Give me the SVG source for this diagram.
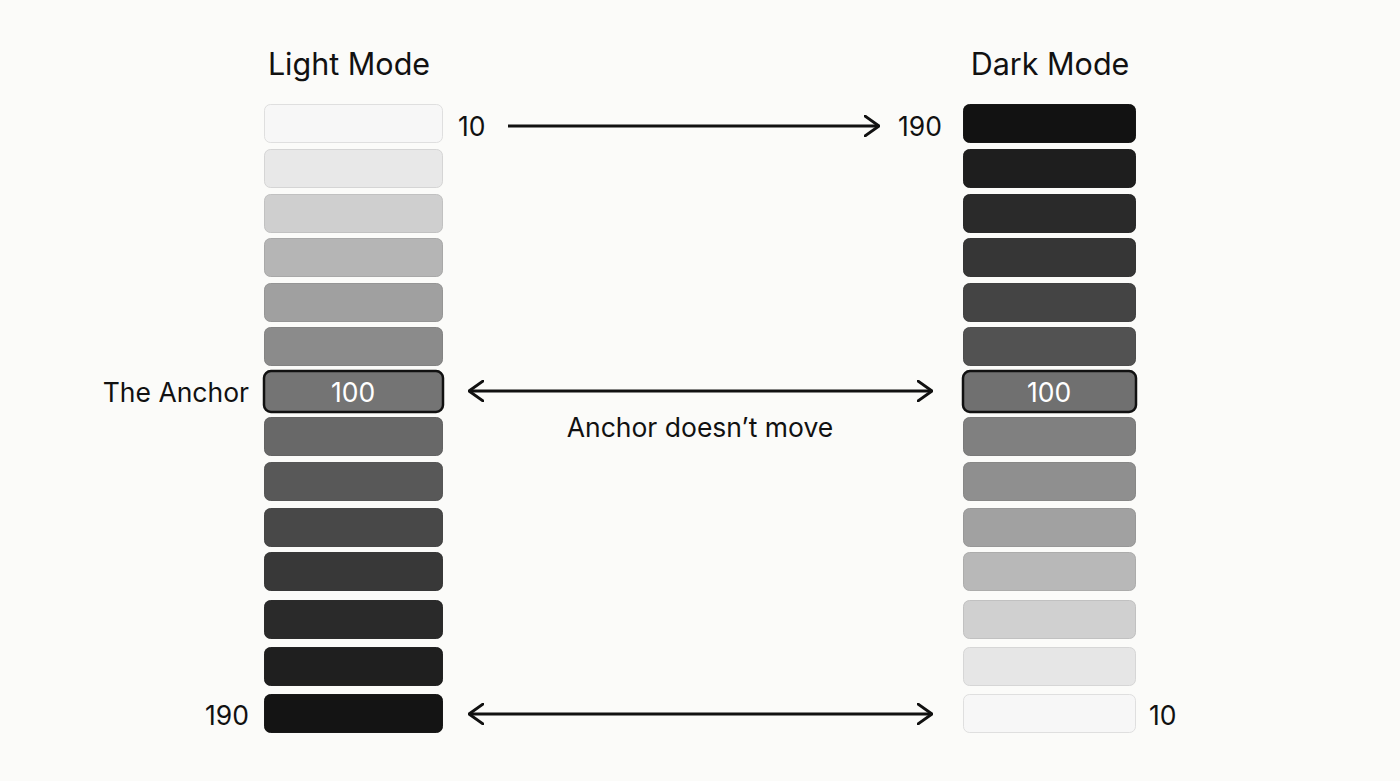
<svg xmlns="http://www.w3.org/2000/svg" width="1400" height="781" viewBox="0 0 1400 781">
<defs>
<marker id="arr" viewBox="0 0 16 22" refX="15" refY="11" markerWidth="16" markerHeight="22" markerUnits="userSpaceOnUse" orient="auto-start-reverse">
<path d="M1,1 L15,11 L1,21" fill="none" stroke="#111" stroke-width="2.8" stroke-linecap="round" stroke-linejoin="round"/>
</marker>
<style>
text{font-family:Inter,"Noto Sans","Liberation Sans",sans-serif;fill:#111}
.title{font-size:30.5px;text-anchor:middle}
.lbl{font-size:26.5px}
.sw{stroke-width:1;stroke-opacity:0.9}
.anchor{stroke:#111;stroke-width:2.5}
.val{font-size:26.5px;fill:#fff;text-anchor:middle}
.conn{stroke:#111;stroke-width:2.8;fill:none}
</style>
</defs>
<rect width="1400" height="781" fill="#fbfbf9"/>
<text class="title" x="349" y="75">Light Mode</text>
<text class="title" x="1050" y="75">Dark Mode</text>
<g id="light-column">
<rect id="l1" class="sw" x="264.5" y="104.5" width="178" height="38" rx="6" fill="#f7f7f7" stroke="#dcdcdc"/>
<rect id="l2" class="sw" x="264.5" y="149.5" width="178" height="38" rx="6" fill="#e8e8e8" stroke="#d2d2d2"/>
<rect id="l3" class="sw" x="264.5" y="194.5" width="178" height="38" rx="6" fill="#cfcfcf" stroke="#bcbcbc"/>
<rect id="l4" class="sw" x="264.5" y="238.5" width="178" height="38" rx="6" fill="#b5b5b5" stroke="#a3a3a3"/>
<rect id="l5" class="sw" x="264.5" y="283.5" width="178" height="38" rx="6" fill="#a0a0a0" stroke="#8f8f8f"/>
<rect id="l6" class="sw" x="264.5" y="327.5" width="178" height="38" rx="6" fill="#8b8b8b" stroke="#7c7c7c"/>
<g id="l7">
<rect class="anchor" x="264" y="371" width="179" height="41" rx="7" fill="#747474"/>
<text class="val" x="353" y="402">100</text>
</g>
<rect id="l8" class="sw" x="264.5" y="417.5" width="178" height="38" rx="6" fill="#686868" stroke="#5b5b5b"/>
<rect id="l9" class="sw" x="264.5" y="462.5" width="178" height="38" rx="6" fill="#585858" stroke="#4c4c4c"/>
<rect id="l10" class="sw" x="264.5" y="508.5" width="178" height="38" rx="6" fill="#484848" stroke="#3c3c3c"/>
<rect id="l11" class="sw" x="264.5" y="552.5" width="178" height="38" rx="6" fill="#383838" stroke="#2d2d2d"/>
<rect id="l12" class="sw" x="264.5" y="600.5" width="178" height="38" rx="6" fill="#2a2a2a" stroke="#202020"/>
<rect id="l13" class="sw" x="264.5" y="647.5" width="178" height="38" rx="6" fill="#1f1f1f" stroke="#161616"/>
<rect id="l14" class="sw" x="264.5" y="694.5" width="178" height="38" rx="6" fill="#141414" stroke="#0c0c0c"/>
</g>
<g id="dark-column">
<rect id="d1" class="sw" x="963.5" y="104.5" width="172" height="38" rx="6" fill="#121212" stroke="#0a0a0a"/>
<rect id="d2" class="sw" x="963.5" y="149.5" width="172" height="38" rx="6" fill="#1e1e1e" stroke="#141414"/>
<rect id="d3" class="sw" x="963.5" y="194.5" width="172" height="38" rx="6" fill="#2a2a2a" stroke="#1e1e1e"/>
<rect id="d4" class="sw" x="963.5" y="238.5" width="172" height="38" rx="6" fill="#363636" stroke="#292929"/>
<rect id="d5" class="sw" x="963.5" y="283.5" width="172" height="38" rx="6" fill="#444444" stroke="#363636"/>
<rect id="d6" class="sw" x="963.5" y="327.5" width="172" height="38" rx="6" fill="#525252" stroke="#444444"/>
<g id="d7">
<rect class="anchor" x="963" y="371" width="173" height="41" rx="7" fill="#707070"/>
<text class="val" x="1049" y="402">100</text>
</g>
<rect id="d8" class="sw" x="963.5" y="417.5" width="172" height="38" rx="6" fill="#808080" stroke="#717171"/>
<rect id="d9" class="sw" x="963.5" y="462.5" width="172" height="38" rx="6" fill="#8f8f8f" stroke="#808080"/>
<rect id="d10" class="sw" x="963.5" y="508.5" width="172" height="38" rx="6" fill="#a1a1a1" stroke="#919191"/>
<rect id="d11" class="sw" x="963.5" y="552.5" width="172" height="38" rx="6" fill="#b8b8b8" stroke="#a6a6a6"/>
<rect id="d12" class="sw" x="963.5" y="600.5" width="172" height="38" rx="6" fill="#d0d0d0" stroke="#bdbdbd"/>
<rect id="d13" class="sw" x="963.5" y="647.5" width="172" height="38" rx="6" fill="#e6e6e6" stroke="#d3d3d3"/>
<rect id="d14" class="sw" x="963.5" y="694.5" width="172" height="38" rx="6" fill="#f7f7f7" stroke="#dcdcdc"/>
</g>
<g id="labels">
<text class="lbl" x="458" y="136">10</text>
<text class="lbl" x="942" y="136" text-anchor="end">190</text>
<text class="lbl" x="249" y="402" text-anchor="end">The Anchor</text>
<text class="lbl" x="700" y="437" text-anchor="middle">Anchor doesn’t move</text>
<text class="lbl" x="249" y="725" text-anchor="end">190</text>
<text class="lbl" x="1149" y="725">10</text>
</g>
<g id="connectors">
<line class="conn" x1="508" y1="126" x2="879" y2="126" marker-end="url(#arr)"/>
<line class="conn" x1="469" y1="391" x2="932" y2="391" marker-start="url(#arr)" marker-end="url(#arr)"/>
<line class="conn" x1="469" y1="714" x2="932" y2="714" marker-start="url(#arr)" marker-end="url(#arr)"/>
</g>
</svg>
